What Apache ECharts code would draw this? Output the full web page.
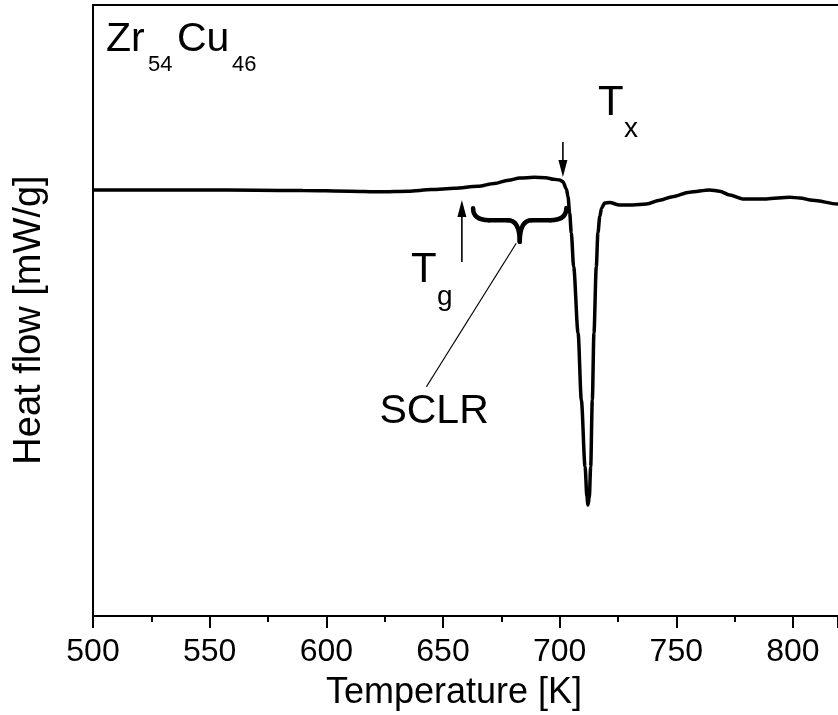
<!DOCTYPE html>
<html><head><meta charset="utf-8">
<script src="https://cdn.jsdelivr.net/npm/echarts@6/dist/echarts.min.js"></script>
<style>html,body{margin:0;padding:0;background:#fff}#c{width:838px;height:715px}</style>
</head><body><div id="c"></div>
<script>
// ---- data ----
const temperature = [500, 520, 545, 570, 590, 610, 623, 635, 645, 655, 665, 672, 678, 683, 689, 694, 697.5, 700, 701.4, 702.9, 703.6, 704.3, 705.0, 706.0, 707.9, 709.3, 710.9, 711.7, 712.1, 712.7, 713.3, 714.0, 714.7, 715.7, 716.4, 717.2, 718.0, 719.3, 721.4, 725.7, 731.3, 737.2, 742.9, 748.4, 755.7, 764.3, 768.6, 772.9, 778.4, 788.6, 798.6, 802.9, 808.4, 819.2, 825];
const heatFlow = [0.25, 0.25, 0.25, 0.24, 0.23, 0.21, 0.19, 0.21, 0.26, 0.30, 0.36, 0.45, 0.55, 0.62, 0.64, 0.63, 0.58, 0.56, 0.50, 0.28, 0.03, -0.47, -1.09, -2.14, -4.2, -6.28, -8.36, -9.30, -9.55, -9.33, -8.36, -6.28, -4.2, -2.14, -1.09, -0.58, -0.31, -0.16, -0.14, -0.22, -0.22, -0.19, -0.07, 0.04, 0.18, 0.25, 0.21, 0.09, -0.03, -0.03, 0.02, 0.00, -0.07, -0.19, -0.25];
const xTickLabels = [500, 550, 600, 650, 700, 750, 800];
const xAxisTitle = 'Temperature [K]';
const yAxisTitle = 'Heat flow [mW/g]';
// annotation anchors (data units: [K, heat flow])
const txArrow = [[701.4, 1.74], [701.4, 0.65]];
const tgArrow = [[658.1, -1.99], [658.1, -0.06]];
const braceAnchor = {left: [662.9, -0.32], right: [702.9, -0.31], bar: -0.69, tip: [682.9, -1.36]};
const leaderLine = [[681.4, -1.41], [642.9, -5.87]];

const FONT = '"Liberation Sans", Arial, sans-serif';
const X_MIN = 500, X_MAX = 819.3;
const chart = echarts.init(document.getElementById('c'), null, {renderer: 'canvas'});
chart.setOption({
  animation: false,
  backgroundColor: '#fff',
  grid: {left: 93, top: 5, right: 0, bottom: 99, show: false},
  xAxis: [{
    type: 'value', min: X_MIN, max: X_MAX, interval: 50, position: 'bottom',
    axisLine: {show: true, onZero: false, lineStyle: {color: '#000', width: 2}},
    axisTick: {show: true, length: 12, lineStyle: {color: '#000', width: 2}},
    minorTick: {show: true, splitNumber: 2, length: 6, lineStyle: {color: '#000', width: 2}},
    axisLabel: {fontSize: 32, color: '#000', fontFamily: FONT, margin: 20, showMaxLabel: false,
      formatter: v => xTickLabels.indexOf(v) >= 0 ? String(v) : ''},
    splitLine: {show: false}
  }, {
    type: 'value', min: X_MIN, max: X_MAX, position: 'top',
    axisLine: {show: true, onZero: false, lineStyle: {color: '#000', width: 2}},
    axisTick: {show: false}, axisLabel: {show: false}, splitLine: {show: false}
  }],
  yAxis: {
    type: 'value', min: -13, max: 6,
    axisLine: {show: true, onZero: false, lineStyle: {color: '#000', width: 2}},
    axisTick: {show: false}, axisLabel: {show: false}, splitLine: {show: false}
  },
  series: [{
    type: 'line', data: temperature.map((t, i) => [t, heatFlow[i]]),
    showSymbol: false, smooth: 0.3, smoothMonotone: 'x', clip: true,
    lineStyle: {color: '#000', width: 3.5}
  }]
});

const px = p => chart.convertToPixel({gridIndex: 0}, p);
const g = [];
const txt = (text, x, y, size, extra) => g.push(Object.assign({type: 'text', x: x, y: y,
  style: {text: text, fontSize: size, fontFamily: FONT, fill: '#000', verticalAlign: 'top', align: 'left'}}, extra || {}));

// composition label
txt('Zr', 106, 19.5, 41);
txt('54', 148, 53.8, 22);
txt('Cu', 177, 19.5, 41);
txt('46', 232, 53.8, 22);
// axis titles
g.push({type: 'text', x: 454, y: 675, style: {text: xAxisTitle, fontSize: 36, fontFamily: FONT, fill: '#000', align: 'center', verticalAlign: 'top'}});
g.push({type: 'text', x: 30, y: 320, rotation: Math.PI / 2, style: {text: yAxisTitle, fontSize: 38, fontFamily: FONT, fill: '#000', align: 'center', verticalAlign: 'middle'}});

// Tx arrow
{
  const a = px(txArrow[0]), b = px(txArrow[1]);
  g.push({type: 'line', shape: {x1: a[0], y1: a[1], x2: b[0], y2: b[1] - 14}, style: {stroke: '#000', lineWidth: 1.6}});
  g.push({type: 'polygon', shape: {points: [[b[0] - 4.5, b[1] - 17], [b[0] + 4.5, b[1] - 17], [b[0], b[1]]]}, style: {fill: '#000'}});
  txt('T', b[0] + 35, b[1] - 94.6, 42);
  txt('x', b[0] + 61, b[1] - 61.3, 28);
}
// Tg arrow
{
  const a = px(tgArrow[0]), b = px(tgArrow[1]);
  g.push({type: 'line', shape: {x1: a[0], y1: a[1], x2: b[0], y2: b[1] + 14}, style: {stroke: '#000', lineWidth: 1.6}});
  g.push({type: 'polygon', shape: {points: [[b[0] - 4.5, b[1] + 17], [b[0] + 4.5, b[1] + 17], [b[0], b[1]]]}, style: {fill: '#000'}});
  txt('T', a[0] - 51, a[1] - 12.6, 42);
  txt('g', a[0] - 25, a[1] + 21.7, 28);
}
// brace
{
  const L = px(braceAnchor.left), R = px(braceAnchor.right), T = px(braceAnchor.tip);
  const yb = px([braceAnchor.tip[0], braceAnchor.bar])[1];
  const r1 = 16, r2 = 12, xc = T[0];
  const st = {stroke: '#000', lineWidth: 4.5, fill: null, lineCap: 'round'};
  g.push({type: 'bezierCurve', shape: {x1: L[0], y1: L[1], cpx1: L[0], cpy1: yb, x2: L[0] + r1, y2: yb}, style: st});
  g.push({type: 'line', shape: {x1: L[0] + r1, y1: yb, x2: xc - r2, y2: yb}, style: st});
  g.push({type: 'bezierCurve', shape: {x1: xc - r2, y1: yb, cpx1: xc, cpy1: yb, x2: xc, y2: T[1]}, style: st});
  g.push({type: 'bezierCurve', shape: {x1: xc, y1: T[1], cpx1: xc, cpy1: yb, x2: xc + r2, y2: yb}, style: st});
  g.push({type: 'line', shape: {x1: xc + r2, y1: yb, x2: R[0] - r1, y2: yb}, style: st});
  g.push({type: 'bezierCurve', shape: {x1: R[0] - r1, y1: yb, cpx1: R[0], cpy1: yb, x2: R[0], y2: R[1]}, style: st});
}
// leader line + SCLR
{
  const a = px(leaderLine[0]), b = px(leaderLine[1]);
  g.push({type: 'line', shape: {x1: a[0], y1: a[1], x2: b[0], y2: b[1]}, style: {stroke: '#000', lineWidth: 1.2}});
  txt('SCLR', b[0] - 47, b[1] + 4.5, 41);
}
chart.setOption({graphic: g});
</script>
</body></html>
